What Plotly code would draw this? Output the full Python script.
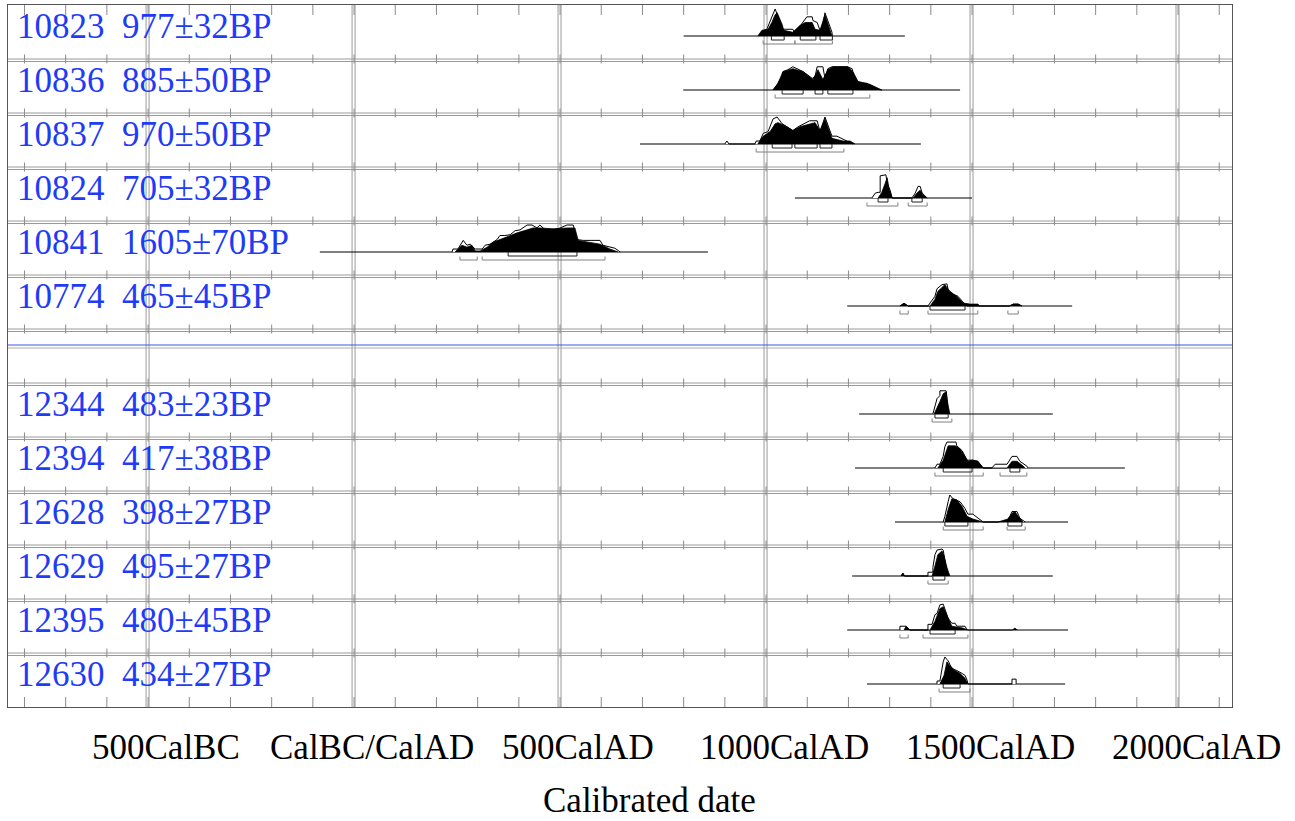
import plotly.graph_objects as go

# ---------------- sample data (calendar year AD, relative probability) ----------------
lab_10823 = "10823\u00a0\u00a0977±32BP"
span_10823 = [800, 1337]
like_yr_10823 = [985, 993, 1002, 1022, 1041, 1065, 1070, 1075, 1090, 1099, 1112, 1114, 1124, 1131, 1138, 1143, 1160, 1161]
like_p_10823 = [0, 0.2, 0.25, 1.0, 0.25, 0.25, 0.1, 0.2, 0.5, 0.71, 0.71, 0.57, 0.5, 0.21, 0.43, 0.86, 0.14, 0]
post_yr_10823 = [980, 990, 1005, 1014, 1022, 1027, 1039, 1043, 1065, 1082, 1095, 1112, 1119, 1131, 1143, 1155, 1160]
post_p_10823 = [0, 0.21, 0.25, 0.5, 0.79, 0.86, 0.43, 0.21, 0.14, 0.39, 0.5, 0.5, 0.25, 0.21, 0.79, 0.21, 0]
r68_10823 = [(1013, 1044), (1083, 1121), (1131, 1161)]
r95_10823 = [(993, 1070), (1070, 1161)]

lab_10836 = "10836\u00a0\u00a0885±50BP"
span_10836 = [799, 1471]
like_yr_10836 = [1017, 1027, 1039, 1041, 1053, 1065, 1075, 1090, 1112, 1119, 1124, 1138, 1143, 1150, 1160, 1197, 1209, 1216, 1228, 1245, 1260, 1281]
like_p_10836 = [0, 0.2, 0.5, 0.68, 0.75, 0.86, 0.79, 0.68, 0.43, 0.5, 0.86, 0.86, 0.43, 0.79, 0.86, 0.86, 0.79, 0.32, 0.25, 0.25, 0.07, 0]
post_yr_10836 = [1017, 1029, 1041, 1065, 1090, 1114, 1126, 1138, 1150, 1163, 1199, 1211, 1223, 1252, 1281]
post_p_10836 = [0, 0.25, 0.68, 0.79, 0.68, 0.39, 0.75, 0.39, 0.75, 0.86, 0.86, 0.68, 0.32, 0.21, 0]
r68_10836 = [(1039, 1090), (1119, 1138), (1150, 1211)]
r95_10836 = [(1022, 1252)]

lab_10837 = "10837\u00a0\u00a0970±50BP"
span_10837 = [694, 1376]
like_yr_10837 = [900, 905, 910, 973, 976, 985, 993, 1005, 1017, 1027, 1039, 1051, 1065, 1078, 1087, 1099, 1106, 1124, 1131, 1143, 1160, 1172, 1184, 1197, 1211]
like_p_10837 = [0, 0.11, 0, 0, 0.11, 0.11, 0.39, 0.46, 0.93, 1.0, 0.75, 0.64, 0.5, 0.64, 0.71, 0.79, 0.86, 0.86, 0.46, 1.0, 0.29, 0.29, 0.21, 0.11, 0]
post_yr_10837 = [980, 993, 1010, 1022, 1029, 1046, 1065, 1082, 1099, 1119, 1131, 1143, 1160, 1187, 1204, 1216]
post_p_10837 = [0, 0.29, 0.46, 0.75, 0.79, 0.68, 0.5, 0.64, 0.71, 0.79, 0.5, 0.93, 0.21, 0.11, 0.11, 0]
r68_10837 = [(1015, 1063), (1070, 1124), (1131, 1160)]
r95_10837 = [(976, 1189)]

lab_10824 = "10824\u00a0\u00a0705±32BP"
span_10824 = [1070, 1500]
like_yr_10824 = [1257, 1265, 1272, 1277, 1277, 1291, 1294, 1301, 1306, 1354, 1362, 1366, 1369, 1374, 1379, 1391]
like_p_10824 = [0, 0.18, 0.21, 0.21, 0.82, 0.86, 0.54, 0.29, 0, 0, 0.18, 0.36, 0.43, 0.43, 0.18, 0]
post_yr_10824 = [1272, 1281, 1289, 1294, 1298, 1306, 1357, 1366, 1374, 1381, 1391]
post_p_10824 = [0, 0.21, 0.54, 0.75, 0.39, 0, 0, 0.18, 0.29, 0.11, 0]
r68_10824 = [(1272, 1296), (1354, 1379)]
r95_10824 = [(1245, 1320), (1345, 1391)]

lab_10841 = "10841\u00a0\u00a01605±70BP"
span_10841 = [-83, 859]
like_yr_10841 = [238, 240, 252, 262, 265, 274, 282, 289, 294, 311, 318, 330, 347, 354, 366, 379, 391, 403, 420, 432,
                 444, 451, 464, 476, 488, 500, 517, 532, 541, 556, 573, 590, 597, 604, 621, 633, 646]
like_p_10841 = [0, 0.11, 0.11, 0.36, 0.43, 0.25, 0.29, 0.18, 0.11, 0.11, 0.25, 0.29, 0.46, 0.61, 0.61, 0.64, 0.79, 0.82, 1.0, 1.0,
                0.89, 1.0, 0.82, 0.82, 0.82, 0.89, 1.0, 1.0, 0.46, 0.43, 0.43, 0.43, 0.43, 0.25, 0.18, 0.14, 0]
post_yr_10841 = [245, 262, 274, 286, 294, 306, 323, 337, 354, 379, 396, 420, 434, 451, 483, 517, 536, 544, 573, 597, 621, 641]
post_p_10841 = [0, 0.25, 0.18, 0.25, 0.04, 0.04, 0.18, 0.36, 0.46, 0.61, 0.71, 0.82, 0.89, 0.89, 0.86, 0.89, 0.89, 0.43, 0.36, 0.29, 0.11, 0]
r68_10841 = [(374, 541)]
r95_10841 = [(257, 299), (311, 609)]

lab_10774 = "10774\u00a0\u00a0465±45BP"
span_10774 = [1197, 1743]
like_yr_10774 = [1325, 1335, 1345, 1393, 1398, 1410, 1415, 1427, 1439, 1442, 1454, 1466, 1476, 1483, 1488, 1590, 1600, 1612, 1621]
like_p_10774 = [0, 0.1, 0, 0, 0.11, 0.36, 0.64, 0.79, 0.82, 0.61, 0.43, 0.36, 0.18, 0.07, 0, 0, 0.07, 0.07, 0]
post_yr_10774 = [1325, 1335, 1345, 1398, 1410, 1417, 1434, 1446, 1463, 1478, 1495, 1514, 1519, 1592, 1600, 1612, 1621]
post_p_10774 = [0, 0.1, 0, 0, 0.25, 0.54, 0.79, 0.54, 0.36, 0.11, 0.07, 0.07, 0, 0, 0.07, 0.07, 0]
r68_10774 = [(1398, 1483)]
r95_10774 = [(1325, 1345), (1393, 1514), (1587, 1612)]

lab_12344 = "12344\u00a0\u00a0483±23BP"
span_12344 = [1226, 1696]
like_yr_12344 = [1405, 1410, 1415, 1422, 1422, 1437, 1439, 1442]
like_p_12344 = [0, 0.29, 0.57, 0.68, 0.86, 0.86, 0.64, 0]
post_yr_12344 = [1408, 1415, 1422, 1430, 1437, 1439, 1446]
post_p_12344 = [0, 0.21, 0.46, 0.75, 0.82, 0.57, 0]
r68_12344 = [(1410, 1442)]
r95_12344 = [(1403, 1451)]

lab_12394 = "12394\u00a0\u00a0417±38BP"
span_12394 = [1216, 1871]
like_yr_12394 = [1410, 1415, 1422, 1430, 1434, 1439, 1461, 1463, 1476, 1488, 1502, 1514, 1527, 1548, 1556, 1585, 1597, 1609, 1616, 1633, 1636]
like_p_12394 = [0, 0.14, 0.14, 0.43, 0.79, 0.96, 0.96, 0.82, 0.64, 0.29, 0.29, 0.25, 0, 0, 0.14, 0.14, 0.43, 0.43, 0.25, 0.07, 0]
post_yr_12394 = [1417, 1430, 1442, 1459, 1471, 1483, 1490, 1500, 1514, 1527, 1585, 1597, 1609, 1621, 1629]
post_p_12394 = [0, 0.29, 0.82, 0.82, 0.71, 0.43, 0.25, 0.29, 0.25, 0, 0, 0.25, 0.25, 0.11, 0]
r68_12394 = [(1430, 1500), (1592, 1616)]
r95_12394 = [(1410, 1527), (1568, 1633)]

lab_12628 = "12628\u00a0\u00a0398±27BP"
span_12628 = [1313, 1733]
like_yr_12628 = [1430, 1434, 1442, 1446, 1454, 1471, 1483, 1490, 1502, 1519, 1527, 1561, 1585, 1592, 1597, 1609, 1616, 1629]
like_p_12628 = [0, 0.21, 0.75, 1.0, 0.86, 0.75, 0.5, 0.29, 0.29, 0.11, 0, 0, 0.04, 0.21, 0.39, 0.39, 0.14, 0]
post_yr_12628 = [1434, 1442, 1451, 1463, 1476, 1488, 1502, 1527, 1563, 1587, 1597, 1604, 1612, 1624]
post_p_12628 = [0, 0.46, 0.86, 0.82, 0.57, 0.21, 0.11, 0, 0, 0.11, 0.32, 0.39, 0.21, 0]
r68_12628 = [(1434, 1490), (1587, 1621)]
r95_12628 = [(1430, 1527), (1585, 1629)]

lab_12629 = "12629\u00a0\u00a0495±27BP"
span_12629 = [1209, 1696]
like_yr_12629 = [1328, 1332, 1336, 1393, 1393, 1405, 1405, 1410, 1415, 1427, 1430, 1434, 1439, 1446]
like_p_12629 = [0, 0.11, 0, 0, 0.14, 0.14, 0.32, 0.79, 0.96, 1.0, 0.96, 0.57, 0.14, 0]
post_yr_12629 = [1328, 1332, 1336, 1403, 1408, 1417, 1427, 1432, 1439, 1446]
post_p_12629 = [0, 0.11, 0, 0, 0.25, 0.79, 0.93, 0.75, 0.32, 0]
r68_12629 = [(1405, 1434)]
r95_12629 = [(1393, 1442)]

lab_12395 = "12395\u00a0\u00a0480±45BP"
span_12395 = [1197, 1733]
like_yr_12395 = [1325, 1325, 1340, 1349, 1393, 1393, 1403, 1410, 1415, 1422, 1430, 1434, 1442, 1451, 1459, 1463, 1483, 1488]
like_p_12395 = [0, 0.14, 0.14, 0, 0, 0.21, 0.21, 0.57, 0.61, 0.93, 0.96, 0.75, 0.43, 0.25, 0.25, 0.14, 0.14, 0]
post_yr_12395 = [1335, 1340, 1349, 1398, 1410, 1422, 1430, 1439, 1451, 1478, 1490, 1598, 1604, 1610]
post_p_12395 = [0, 0.14, 0, 0, 0.32, 0.79, 0.86, 0.57, 0.14, 0.07, 0, 0, 0.07, 0]
r68_12395 = [(1398, 1459)]
r95_12395 = [(1325, 1345), (1381, 1490)]

lab_12630 = "12630\u00a0\u00a0434±27BP"
span_12630 = [1245, 1726]
like_yr_12630 = [1415, 1415, 1422, 1430, 1434, 1442, 1451, 1463, 1476, 1483, 1488, 1490, 1597, 1597, 1607, 1607]
like_p_12630 = [0, 0.11, 0.11, 0.82, 1.0, 0.86, 0.57, 0.5, 0.39, 0.32, 0.14, 0, 0, 0.18, 0.18, 0]
post_yr_12630 = [1422, 1432, 1439, 1446, 1459, 1471, 1483, 1490]
post_p_12630 = [0, 0.32, 0.82, 0.68, 0.5, 0.39, 0.21, 0]
r68_12630 = [(1430, 1471)]
r95_12630 = [(1420, 1495)]

# axis labels
tick_years = [-500, 0, 500, 1000, 1500, 2000]
tick_text = ["500CalBC", "CalBC/CalAD", "500CalAD", "1000CalAD", "1500CalAD", "2000CalAD"]
axis_title = "Calibrated date"

# rows: (slot index, label, span, likelihood, posterior, ranges)
rows = [
    (0, lab_10823, span_10823, like_yr_10823, like_p_10823, post_yr_10823, post_p_10823, r68_10823, r95_10823),
    (1, lab_10836, span_10836, like_yr_10836, like_p_10836, post_yr_10836, post_p_10836, r68_10836, r95_10836),
    (2, lab_10837, span_10837, like_yr_10837, like_p_10837, post_yr_10837, post_p_10837, r68_10837, r95_10837),
    (3, lab_10824, span_10824, like_yr_10824, like_p_10824, post_yr_10824, post_p_10824, r68_10824, r95_10824),
    (4, lab_10841, span_10841, like_yr_10841, like_p_10841, post_yr_10841, post_p_10841, r68_10841, r95_10841),
    (5, lab_10774, span_10774, like_yr_10774, like_p_10774, post_yr_10774, post_p_10774, r68_10774, r95_10774),
    (7, lab_12344, span_12344, like_yr_12344, like_p_12344, post_yr_12344, post_p_12344, r68_12344, r95_12344),
    (8, lab_12394, span_12394, like_yr_12394, like_p_12394, post_yr_12394, post_p_12394, r68_12394, r95_12394),
    (9, lab_12628, span_12628, like_yr_12628, like_p_12628, post_yr_12628, post_p_12628, r68_12628, r95_12628),
    (10, lab_12629, span_12629, like_yr_12629, like_p_12629, post_yr_12629, post_p_12629, r68_12629, r95_12629),
    (11, lab_12395, span_12395, like_yr_12395, like_p_12395, post_yr_12395, post_p_12395, r68_12395, r95_12395),
    (12, lab_12630, span_12630, like_yr_12630, like_p_12630, post_yr_12630, post_p_12630, r68_12630, r95_12630),
]

# ---------------- geometry ----------------
W, H = 1295, 821
ML, MR, MT, MB = 8, 63, 5, 114
N_SLOTS = 13
X0, X1 = -840, 2131
PX_Y = (H - MT - MB) / N_SLOTS          # pixels per row slot
PX_X = (W - ML - MR) / (X1 - X0)        # pixels per year
BASE_PX = 31                            # baseline depth inside a slot
PEAK_PX = 27                            # height of a probability of 1
SEP_SLOT = 6

def py(px):
    return px / PX_Y

def px_x(px):
    return px / PX_X

GRID = "#9a9a9a"
TEXT_BLUE = "#1f3cf5"
SERIF = "Liberation Serif, Times New Roman, serif"

fig = go.Figure()

def add_path(xs, ys, color, width=1, fill=None, fillcolor=None):
    fig.add_trace(go.Scatter(x=xs, y=ys, mode="lines", line=dict(color=color, width=width),
                             fill=fill, fillcolor=fillcolor, hoverinfo="skip", showlegend=False))

# major vertical grid lines (drawn doubled)
gx, gy = [], []
for yr in tick_years:
    for off in (0, px_x(3)):
        gx += [yr - px_x(2) + off, yr - px_x(2) + off, None]
        gy += [0, N_SLOTS, None]
add_path(gx, gy, GRID, 1)

# horizontal row boundaries (doubled)
hx, hy = [], []
for k in range(1, N_SLOTS):
    for off in (0, py(2.5)):
        hx += [X0, X1, None]
        hy += [k + off, k + off, None]
add_path(hx, hy, GRID, 1)

# century ticks on every boundary, top and bottom
tx, ty = [], []
for yr in range(-800, 2200, 100):
    for k in range(1, N_SLOTS):
        tx += [yr, yr, None]
        ty += [k - py(4.5), k + py(4.5), None]
    tx += [yr, yr, None, yr, yr, None]
    ty += [0, py(10), None, N_SLOTS - py(10), N_SLOTS, None]
add_path(tx, ty, "#8a8a8a", 1)

# separator between the two groups
add_path([X0, X1], [SEP_SLOT + py(16), SEP_SLOT + py(16)], "#3b5be8", 1.2)
add_path([X0, X1], [SEP_SLOT + py(19), SEP_SLOT + py(19)], "#b0b0b0", 1)

annotations = []
for slot, label, span, lyr, lp, pyr, pp, r68, r95 in rows:
    base = slot + py(BASE_PX)
    hscale = py(PEAK_PX)
    # calculation range line
    add_path(span, [base, base], "black", 1.2)
    # likelihood outline
    add_path(lyr, [base - v * hscale for v in lp], "black", 1, fill="toself", fillcolor="white")
    # posterior
    add_path(pyr, [base - v * hscale for v in pp], "black", 0.8, fill="toself", fillcolor="black")
    # 68.2% and 95.4% range brackets
    bx, by = [], []
    for a, b in r68:
        bx += [a, a, b, b, None]
        by += [base, base + py(4), base + py(4), base, None]
    add_path(bx, by, "#222222", 1)
    bx, by = [], []
    for a, b in r95:
        bx += [a, a, b, b, None]
        by += [base + py(4.5), base + py(8), base + py(8), base + py(4.5), None]
    add_path(bx, by, "#808080", 1)

    annotations.append(dict(text=label, xref="paper", x=0, xanchor="left", xshift=7,
                            yref="y", y=slot + py(21), yanchor="middle", showarrow=False,
                            font=dict(family=SERIF, size=35, color=TEXT_BLUE)))

for yr, txt in zip(tick_years, tick_text):
    annotations.append(dict(text=txt, xref="x", x=yr, xanchor="center", xshift=18,
                            yref="paper", y=0, yanchor="middle", yshift=-40, showarrow=False,
                            font=dict(family=SERIF, size=35, color="black")))

annotations.append(dict(text=axis_title, xref="paper", x=0.5237, xanchor="center",
                        yref="paper", y=0, yanchor="middle", yshift=-93, showarrow=False,
                        font=dict(family=SERIF, size=35, color="black")))

fig.update_layout(
    width=W, height=H,
    margin=dict(l=ML, r=MR, t=MT, b=MB, pad=0),
    paper_bgcolor="white", plot_bgcolor="white",
    showlegend=False,
    annotations=annotations,
    xaxis=dict(range=[X0, X1], showgrid=False, zeroline=False, showticklabels=False, ticks="",
               showline=True, mirror=True, linecolor="#555555", linewidth=1, fixedrange=True),
    yaxis=dict(range=[N_SLOTS, 0], showgrid=False, zeroline=False, showticklabels=False, ticks="",
               showline=True, mirror=True, linecolor="#555555", linewidth=1, fixedrange=True),
)

fig.write_html("out.html")
